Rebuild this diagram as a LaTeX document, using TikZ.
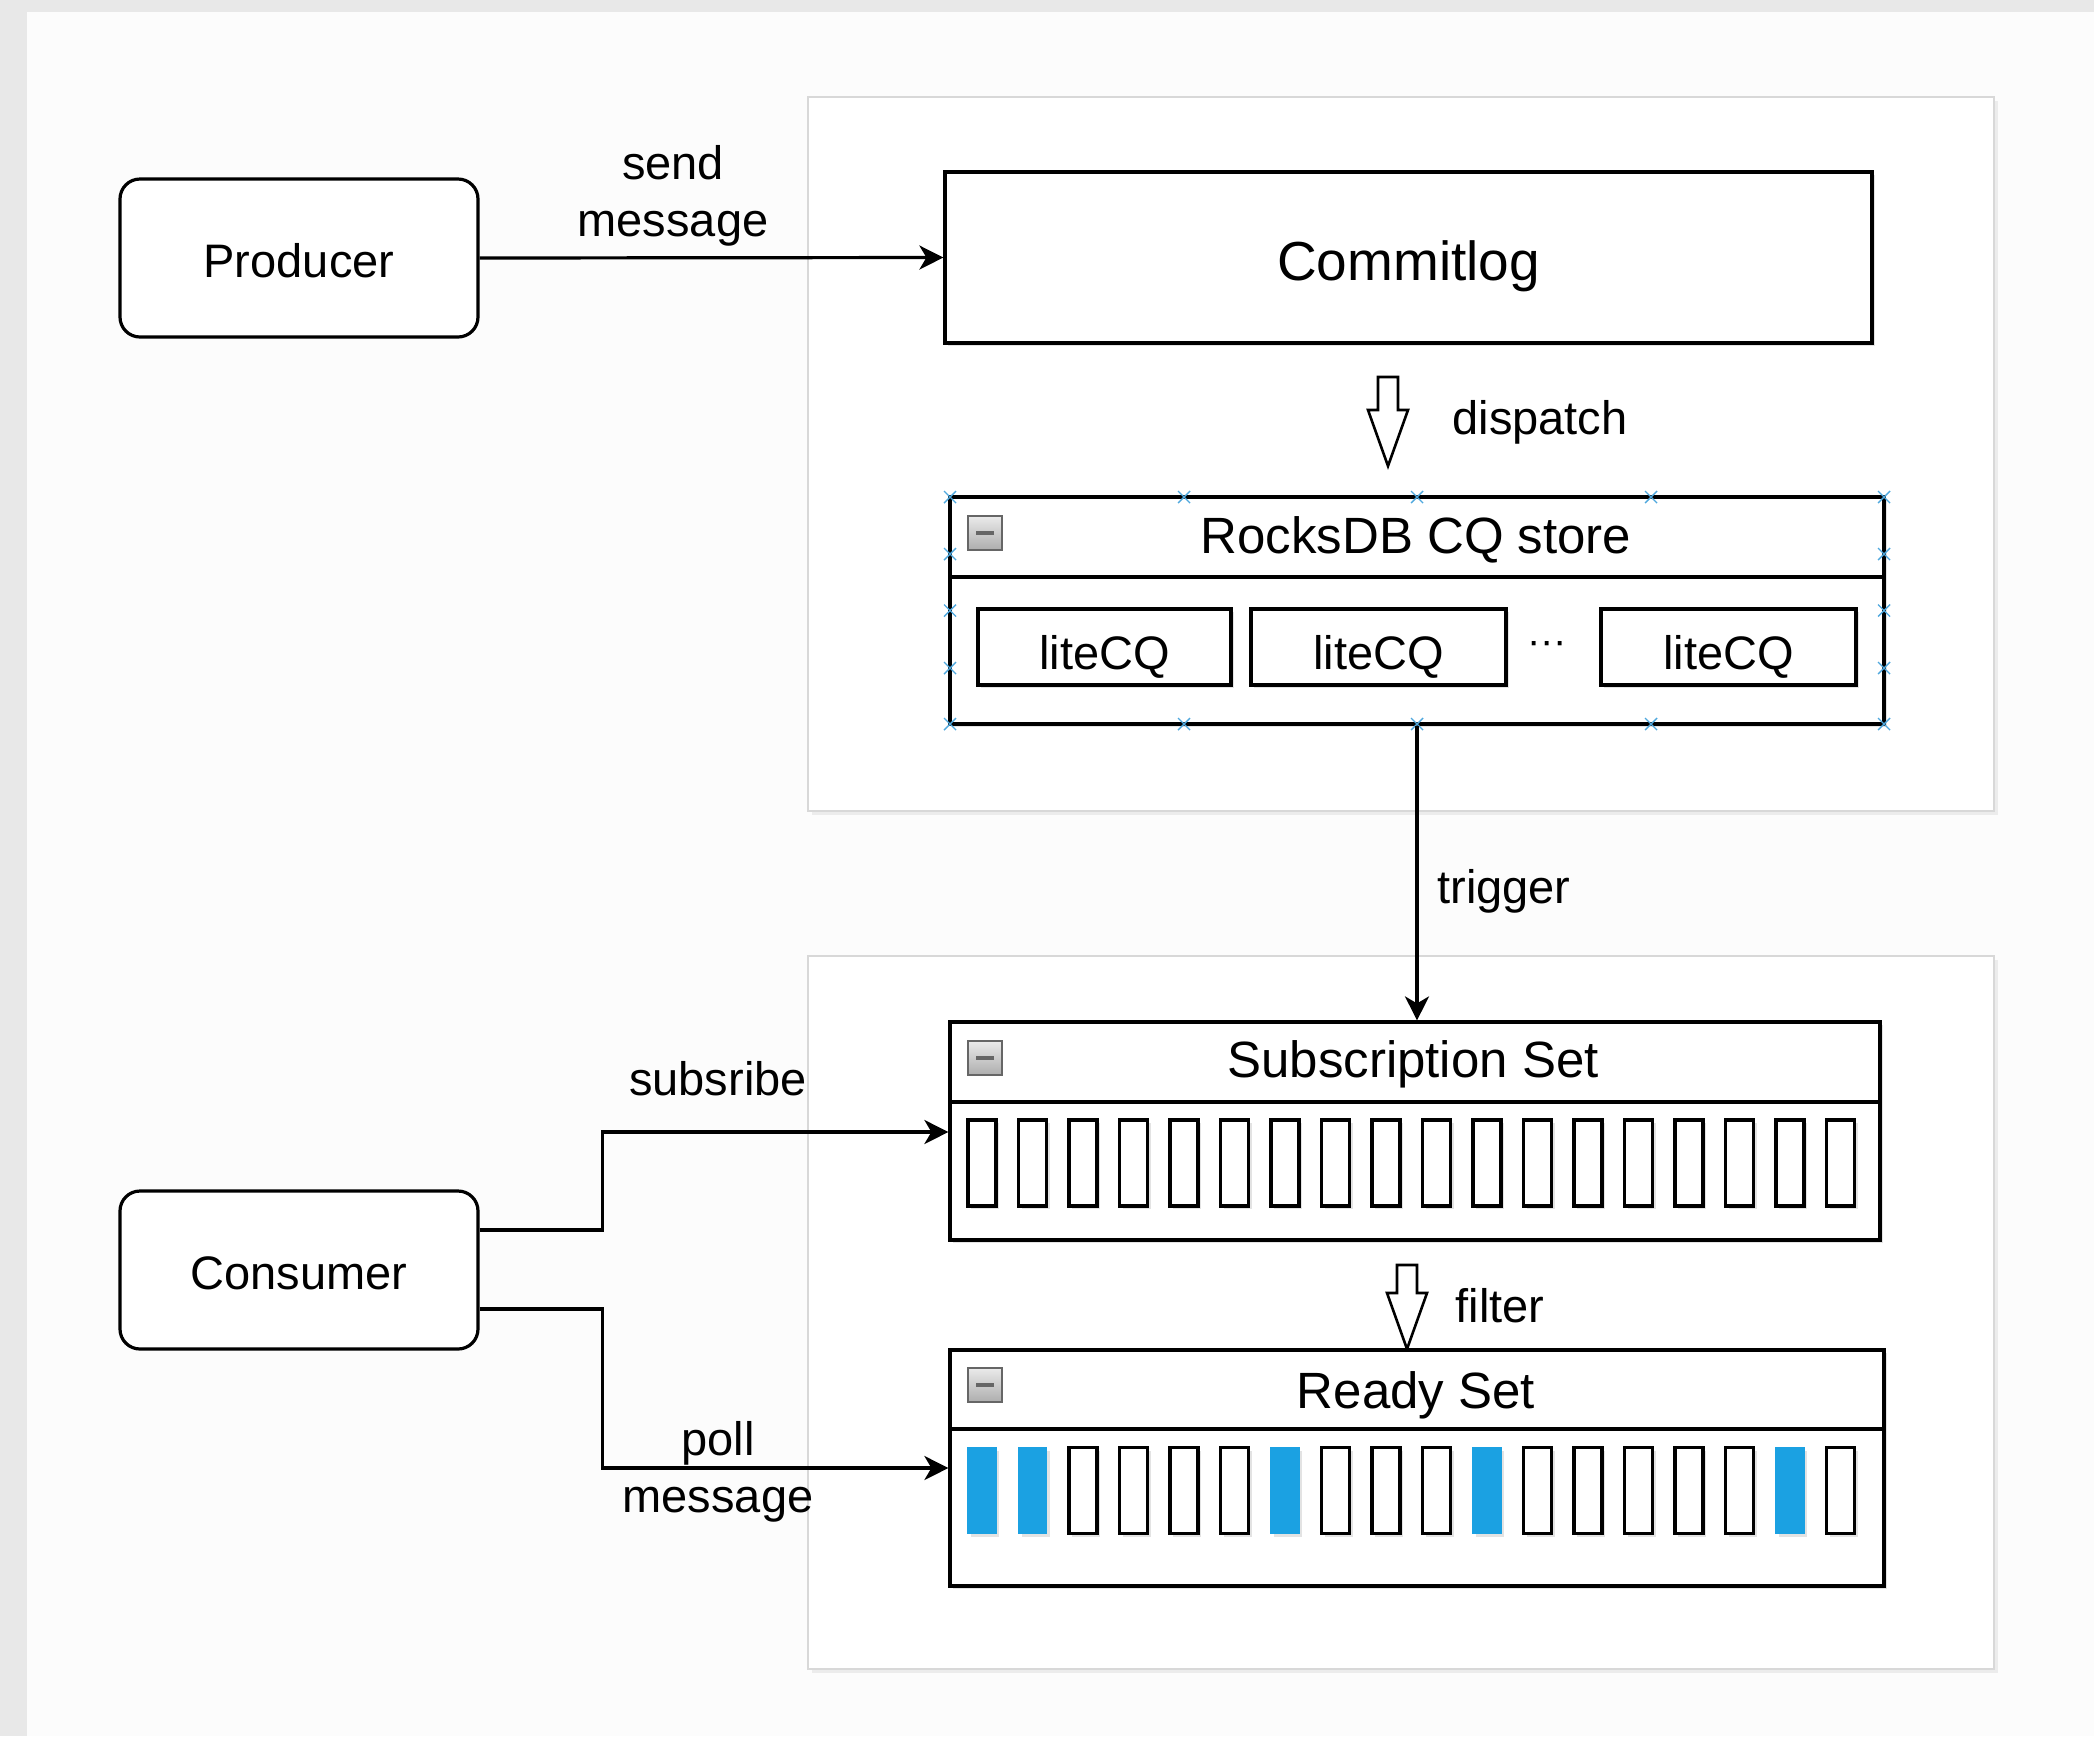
\documentclass[tikz,border=0pt]{standalone}
\usepackage{fontspec}
\setmainfont{Liberation Sans}
\usetikzlibrary{arrows.meta,shadows,calc}
\definecolor{bgedge}{HTML}{E8E8E8}
\definecolor{bgmain}{HTML}{FCFCFC}
\definecolor{contline}{HTML}{D8D8D8}
\definecolor{cellblue}{HTML}{1BA1E2}
\definecolor{mkblue}{HTML}{4FA8DE}
\begin{document}
\begin{tikzpicture}[x=0.5pt,y=-0.5pt,
  lw/.style={line width=1.6pt},
  shd/.style={drop shadow={shadow xshift=1.6pt,shadow yshift=-1.6pt,opacity=0.22}},
  cont/.style={draw=contline,line width=0.8pt,fill=white,minimum width=593pt,
     drop shadow={shadow xshift=2pt,shadow yshift=-2pt,opacity=0.12}},
  rbox/.style={draw,lw,rounded corners=10pt,fill=white,minimum width=179pt,minimum height=79pt,
     text height=19.8pt,text depth=0pt,font=\fontsize{23.5}{28.2}\selectfont},
  pbox/.style={draw,lw,fill=white,shd,inner sep=0pt},
  lite/.style={draw,lw,fill=white,shd,minimum height=38pt,inner sep=0pt,
     text height=22.8pt,text depth=0pt,font=\fontsize{23.5}{28.2}\selectfont},
  cell/.style={draw,lw,fill=white,shd,minimum width=14pt,minimum height=43pt,inner sep=0pt},
  bcell/.style={draw=cellblue,line width=0.6pt,fill=cellblue,shd,minimum width=14pt,minimum height=43pt,inner sep=0pt},
  ttl/.style={font=\fontsize{25.5}{30}\selectfont,inner sep=0pt},
  lbl/.style={font=\fontsize{23.5}{28.2}\selectfont,align=center,inner sep=0pt},
  conn/.style={lw,-{Stealth[length=12pt,width=12pt,inset=3.5pt]}},
  blkp/.style={draw,line width=1.3pt,fill=white,line join=miter},
  icon/.style={draw=black!60,line width=0.8pt,top color=black!8,bottom color=black!32,
     minimum size=17pt,inner sep=0pt,
     path picture={\draw[line width=1.8pt] ([xshift=-4.5pt]path picture bounding box.center)
        -- ([xshift=4.5pt]path picture bounding box.center);}},
  mk/.style={draw=mkblue,line width=0.7pt}
]
% background
\fill[bgedge] (0,0) rectangle (2094,1736);
\fill[bgmain] (27,12) rectangle (2094,1736);
\useasboundingbox (0,0) rectangle (2094,1736);

% containers
\node[cont,minimum height=357pt] (topc) at (1401,454) {};
\node[cont,minimum height=356.5pt] (botc) at (1401,1312.5) {};

% producer / consumer
\node[rbox] (prod) at (299,258) {Producer};
\node[rbox] (cons) at (299,1270) {Consumer};

% commitlog
\node[pbox,minimum width=463.5pt,minimum height=85.5pt,text height=22.6pt,text depth=0pt,
  font=\fontsize{27.5}{33}\selectfont] (commit) at (1408.5,257.5) {Commitlog};

% dispatch (hollow block arrow)
\coordinate (dtop) at (1388,377);
\draw[blkp] ($(dtop)+(-10,0)$) -- ++(0,33) -- ++(-10,0) -- ++(20,56) -- ++(20,-56)
   -- ++(-10,0) -- ++(0,-33) -- cycle;
\node[lbl] (displ) at (1540,422) {dispatch};

% RocksDB CQ store
\node[pbox,minimum width=467pt,minimum height=113.5pt] (rocks) at (1417,610.5) {};
\draw[lw] (rocks.west |- 0,577) -- (rocks.east |- 0,577);
\node[icon] (ricon) at (985,533) {};
\node[ttl] (rtitle) at (1416,540) {RocksDB CQ store};
\node[lite,minimum width=126.5pt] (l1) at (1104.5,647) {liteCQ};
\node[lite,minimum width=127.5pt] (l2) at (1378.5,647) {liteCQ};
\node[lite,minimum width=127.5pt] (l3) at (1728.5,647) {liteCQ};
\node[lbl] (dots) at (1547,648) {\fontsize{20}{24}\selectfont ···};
\foreach \xx in {950,1184,1417,1651,1884}
  \foreach \yy in {497,724}
    \draw[mk] (\xx-6,\yy-6) -- (\xx+6,\yy+6) (\xx-6,\yy+6) -- (\xx+6,\yy-6);
\foreach \xx in {950,1884}
  \foreach \yy in {554,610.5,668}
    \draw[mk] (\xx-6,\yy-6) -- (\xx+6,\yy+6) (\xx-6,\yy+6) -- (\xx+6,\yy-6);

% Subscription Set
\node[pbox,minimum width=465pt,minimum height=109pt] (subs) at (1415,1131) {};
\draw[lw] (subs.west |- 0,1102) -- (subs.east |- 0,1102);
\node[icon] (sicon) at (985,1058) {};
\node[ttl] (stitle) at (1413,1064) {Subscription Set};
\foreach \k in {0,...,17}
  \node[cell] (s\k) at ({982+50.5*\k},1163) {};

% trigger
\draw[conn] (rocks.south) -- (rocks.south |- subs.north);
\node[lbl] (trigl) at (1504,891) {trigger};

% filter (hollow block arrow)
\coordinate (ftop) at (1407,1265);
\draw[blkp] ($(ftop)+(-10,0)$) -- ++(0,28) -- ++(-10,0) -- ++(20,56) -- ++(20,-56)
   -- ++(-10,0) -- ++(0,-28) -- cycle;
\node[lbl] (filtl) at (1500,1306) {filter};

% Ready Set
\node[pbox,minimum width=467pt,minimum height=118pt] (ready) at (1417,1468) {};
\draw[lw] (ready.west |- 0,1429) -- (ready.east |- 0,1429);
\node[icon] (ricon2) at (985,1385) {};
\node[ttl] (rdtitle) at (1416,1395) {Ready Set};
\foreach \k in {0,...,17}{
  \pgfmathtruncatemacro\isb{(\k==0)||(\k==1)||(\k==6)||(\k==10)||(\k==16)}
  \ifnum\isb=1
    \node[bcell] (r\k) at ({982+50.5*\k},1490.5) {};
  \else
    \node[cell] (r\k) at ({982+50.5*\k},1490.5) {};
  \fi
}

% connectors
\draw[conn] (prod.east) -- (commit.west);
\node[lbl] (sendl) at (673,196) {send\\message};
\draw[conn] (cons.east |- 0,1230) -- ++(123,0) |- (subs.west |- 0,1132);
\node[lbl] (subl) at (718,1079) {subsribe};
\draw[conn] (cons.east |- 0,1309) -- ++(123,0) |- (ready.west |- 0,1468);
\node[lbl] (polll) at (718,1472) {poll\\message};
\end{tikzpicture}
\end{document}
